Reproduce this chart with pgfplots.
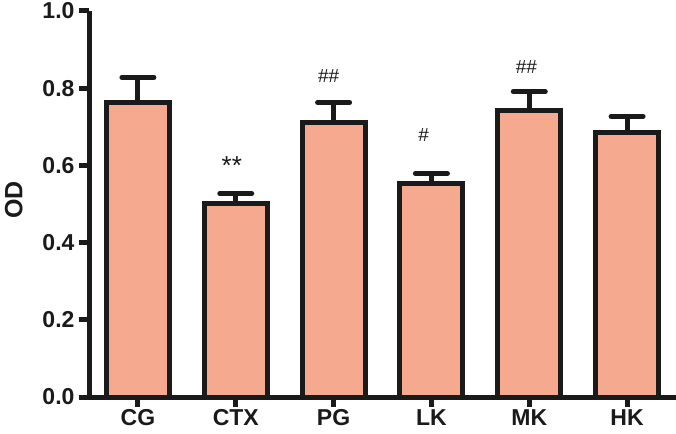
\documentclass[border=0pt]{standalone}
\usepackage{pgfplots}
\pgfplotsset{compat=1.18}
\usepackage{fontspec}
\setmainfont{Liberation Sans}
\definecolor{barfill}{RGB}{245,170,143}
\definecolor{ink}{RGB}{26,26,26}

\pgfplotstableread{
x y err
0 0.763 0.065
1 0.502 0.025
2 0.711 0.052
3 0.553 0.026
4 0.741 0.050
5 0.685 0.042
}\oddata

\begin{document}
\begin{tikzpicture}[x=1pt,y=1pt]
\path[use as bounding box] (-89,-36) rectangle (587,397);
\begin{axis}[
    at={(0,0)}, anchor=south west,
    scale only axis,
    width=587pt, height=386pt,
    xmin=-0.5, xmax=5.5,
    ymin=0, ymax=1.0,
    axis x line=bottom, axis y line=left,
    axis line style={-, line width=5pt, ink},
    tick align=outside,
    major tick length=10pt,
    every tick/.style={line width=5pt, ink},
    xtick=data,
    xticklabels={CG,CTX,PG,LK,MK,HK},
    ytick={0,0.2,...,1.0},
    /pgf/number format/.cd, fixed, fixed zerofill, precision=1, assume math mode=true,
    /pgfplots/.cd,
    ticklabel style={font=\fontsize{23}{25}\selectfont\bfseries, text=ink},
    xticklabel style={yshift=1pt},
    yticklabel style={xshift=-1pt},
    ylabel={OD},
    ylabel style={at={(axis description cs:-0.128,0.51)}, anchor=center,
        font=\fontsize{25}{28}\selectfont\bfseries, text=ink},
    clip=false,
]
\addplot[ybar, bar width=63pt, fill=barfill, draw=ink, line width=5pt,
    error bars/.cd, y dir=plus, y explicit,
    error bar style={line width=5pt, ink},
    error mark options={rotate=90, mark size=16pt, line width=5pt, ink, line cap=round}]
    table[x=x, y=y, y error=err] {\oddata};
\node[font=\fontsize{26}{28}\selectfont, text=ink] at (axis cs:0.96,0.600) {**};
\node[font=\fontsize{19}{20}\selectfont, text=ink] at (axis cs:1.95,0.832) {\#\#};
\node[font=\fontsize{19}{20}\selectfont, text=ink] at (axis cs:2.92,0.679) {\#};
\node[font=\fontsize{19}{20}\selectfont, text=ink] at (axis cs:3.97,0.855) {\#\#};
\end{axis}
\end{tikzpicture}
\end{document}
